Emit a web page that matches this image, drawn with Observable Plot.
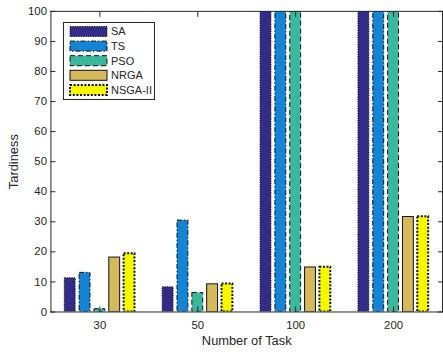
<!DOCTYPE html>
<html><head><meta charset="utf-8">
<script src="https://cdn.jsdelivr.net/npm/d3@7"></script>
<script src="https://cdn.jsdelivr.net/npm/@observablehq/plot@0.6"></script>
<style>
body{margin:0;overflow:hidden;background:#fff;font-family:"Liberation Sans",Arial,sans-serif}
#wrap{position:relative;width:443px;height:352px;overflow:hidden}
#legend{position:absolute;left:63px;top:22px;background:#fff;border:1px solid #262626;box-sizing:border-box}
</style></head><body><div id="wrap"><div id="chart"></div><div id="legend"></div></div>
<script>
const tasks = ["30", "50", "100", "200"];
const algorithms = ["SA", "TS", "PSO", "NRGA", "NSGA-II"];
const SA = [11.2, 8.2, 130, 130];
const TS = [13.0, 30.4, 130, 130];
const PSO = [0.9, 6.3, 130, 130];
const NRGA = [18.1, 9.2, 14.8, 31.6];
const NSGA2 = [19.4, 9.3, 14.9, 31.7];
const yTicks = [0, 10, 20, 30, 40, 50, 60, 70, 80, 90, 100];
const colors = ["#332b88", "#1384d6", "#3bb89c", "#d6b95a", "#f7f700"];
const dashes = ["1.2,1.2", "5,2,1.5,2", "5,3", null, "2,1.6"];
const widths = [1, 1, 1, 1, 2];

const series = [SA, TS, PSO, NRGA, NSGA2];
const rows = tasks.flatMap((t, i) => algorithms.map((a, j) => ({task: t, alg: a, value: series[j][i]})));

const ink = "#262626";
const barMarks = algorithms.map((a, j) => Plot.barY(rows.filter(d => d.alg === a), {
  fx: "task", x: "alg", y: "value", fill: "alg",
  stroke: "#111", strokeWidth: widths[j], strokeDasharray: dashes[j], clip: true
}));

const chart = Plot.plot({
  width: 448, height: 352,
  marginLeft: 51, marginRight: 1, marginTop: 11, marginBottom: 37,
  style: {fontFamily: "Liberation Sans, Arial, sans-serif", fontSize: "11.5px", color: ink, background: "#fff"},
  fx: {domain: tasks, padding: 0},
  x: {domain: algorithms, paddingInner: 0.3, paddingOuter: 0.95, axis: null},
  y: {domain: [0, 100]},
  color: {domain: algorithms, range: colors},
  marks: [
    ...barMarks,
    Plot.ruleY([0, 100], {stroke: ink}),
    Plot.frame({anchor: "left", facetAnchor: "left", stroke: ink}),
    Plot.frame({anchor: "right", facetAnchor: "right", stroke: ink}),
    Plot.axisY({anchor: "left", ticks: yTicks, tickSize: -5, tickPadding: 9, label: null, fontSize: 11.5}),
    Plot.axisY({anchor: "left", ticks: [], label: "Tardiness", labelArrow: false, labelAnchor: "center", labelOffset: 43, fontSize: 13}),
    Plot.axisY({anchor: "right", ticks: yTicks, tickSize: -5, tickFormat: () => "", label: null}),
    Plot.axisFx({anchor: "top", tickSize: -5, tickFormat: () => "", label: null}),
    Plot.axisFx({anchor: "bottom", tickSize: -5, tickPadding: 14, label: null, fontSize: 11.5}),
    Plot.axisFx({anchor: "bottom", ticks: [], label: "Number of Task", labelArrow: false, labelAnchor: "center", labelOffset: 33, fontSize: 13})
  ]
});
document.getElementById("chart").appendChild(chart);

// legend
const lg = d3.select("#legend").style("width", "92px").style("height", "78px");
const ls = lg.append("svg").attr("width", 90).attr("height", 76).style("display", "block");
algorithms.forEach((a, j) => {
  const cy = 8.5 + 14.6 * j;
  ls.append("rect").attr("x", 6).attr("y", cy - 5).attr("width", 37).attr("height", 10)
    .attr("fill", colors[j]).attr("stroke", "#111").attr("stroke-width", widths[j])
    .attr("stroke-dasharray", dashes[j]);
  ls.append("text").attr("x", 47).attr("y", cy).attr("dy", "0.35em")
    .attr("font-size", 11).attr("fill", ink).attr("font-family", "Liberation Sans, Arial, sans-serif").text(a);
});
</script>
</body></html>
